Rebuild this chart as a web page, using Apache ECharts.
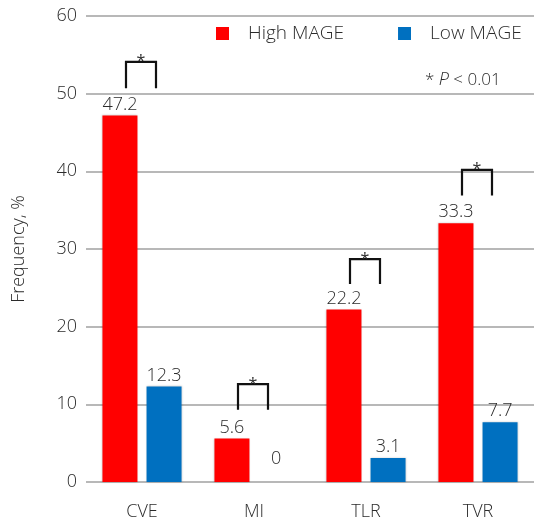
<!DOCTYPE html>
<html>
<head>
<meta charset="utf-8">
<script src="https://cdn.jsdelivr.net/npm/echarts@6/dist/echarts.min.js"></script>
<style>
  html, body { margin: 0; padding: 0; background: #fff; }
  #chart { width: 534px; height: 525px; }
</style>
</head>
<body>
<div id="chart"></div>
<script>
// Outcome categories and frequency (%) per group
var categories = ['CVE', 'MI', 'TLR', 'TVR'];
var highMage = [47.2, 5.6, 22.2, 33.3];
var lowMage = [12.3, 0, 3.1, 7.7];

// Significance brackets: [category index, top value, foot value]
var brackets = [
  [0, 54.1, 50.7],
  [1, 12.6, 9.3],
  [2, 28.7, 25.5],
  [3, 40.2, 36.9]
];

var FONT = '"Open Sans", "Noto Sans", sans-serif';
var TEXT = '#2b2b2b';
var FS = 18;

var chart = echarts.init(document.getElementById('chart'), null, { renderer: 'canvas' });

function barLabel() {
  return {
    show: true,
    position: 'top',
    distance: 2,
    fontFamily: FONT,
    fontWeight: 300,
    fontSize: FS,
    color: TEXT
  };
}

var lowData = lowMage.map(function (v) {
  if (v === 0) {
    return { value: v, label: { offset: [0, -12] } };
  }
  return v;
});

chart.setOption({
  animation: false,
  backgroundColor: '#fff',
  grid: { left: 86, top: 16, width: 452, bottom: 43, containLabel: false },
  legend: {
    data: ['High MAGE', 'Low MAGE'],
    left: 216,
    top: 24,
    padding: 0,
    icon: 'rect',
    itemWidth: 13,
    itemHeight: 13,
    itemGap: 54,
    formatter: function (name) { return '{sp| }{t|' + name + '}'; },
    textStyle: {
      fontFamily: FONT, fontWeight: 300, fontSize: 19, color: TEXT,
      rich: {
        sp: { width: 14 },
        t: { fontFamily: FONT, fontWeight: 300, fontSize: 19, color: TEXT }
      }
    }
  },
  xAxis: {
    type: 'category',
    data: categories,
    axisLine: { show: false },
    axisTick: { show: false },
    axisLabel: { margin: 21, fontFamily: FONT, fontWeight: 300, fontSize: FS, color: TEXT }
  },
  yAxis: {
    type: 'value',
    min: 0,
    max: 60,
    interval: 10,
    name: 'Frequency, %',
    nameLocation: 'middle',
    nameRotate: 90,
    nameGap: 58,
    nameTextStyle: { fontFamily: FONT, fontWeight: 300, fontSize: FS, color: TEXT },
    axisLine: { show: false },
    axisTick: { show: false },
    axisLabel: { margin: 9, fontFamily: FONT, fontWeight: 300, fontSize: FS, color: TEXT },
    splitLine: { lineStyle: { color: '#a0a0a0', width: 1.5 } }
  },
  graphic: [{
    type: 'text',
    left: 425,
    top: 71,
    style: {
      text: '* {i|P} < 0.01',
      font: '300 17px ' + FONT,
      fill: TEXT,
      rich: { i: { fontStyle: 'italic', fontWeight: 300, fontFamily: FONT, fontSize: 18, fill: TEXT } }
    }
  }],
  series: [
    {
      name: 'High MAGE',
      type: 'bar',
      data: highMage,
      barWidth: 35,
      barGap: '26%',
      itemStyle: { color: '#ff0000', shadowBlur: 2, shadowColor: 'rgba(0,0,0,0.2)' },
      label: barLabel()
    },
    {
      name: 'Low MAGE',
      type: 'bar',
      data: lowData,
      barWidth: 35,
      itemStyle: { color: '#0070c0', shadowBlur: 2, shadowColor: 'rgba(0,0,0,0.2)' },
      label: barLabel()
    },
    {
      name: 'significance',
      type: 'custom',
      data: brackets,
      z: 5,
      renderItem: function (params, api) {
        var top = api.coord([api.value(0), api.value(1)]);
        var foot = api.coord([api.value(0), api.value(2)]);
        var cx = top[0] - 1;
        var hw = 15;
        return {
          type: 'group',
          children: [
            {
              type: 'polyline',
              shape: {
                points: [
                  [cx - hw, foot[1]],
                  [cx - hw, top[1]],
                  [cx + hw, top[1]],
                  [cx + hw, foot[1]]
                ]
              },
              style: { stroke: '#111', lineWidth: 2.2, fill: null }
            },
            {
              type: 'text',
              x: cx,
              y: top[1] + 8,
              style: {
                text: '*',
                font: '16px ' + FONT,
                fill: TEXT,
                textAlign: 'center',
                textVerticalAlign: 'bottom'
              }
            }
          ]
        };
      }
    }
  ]
});
</script>
</body>
</html>
